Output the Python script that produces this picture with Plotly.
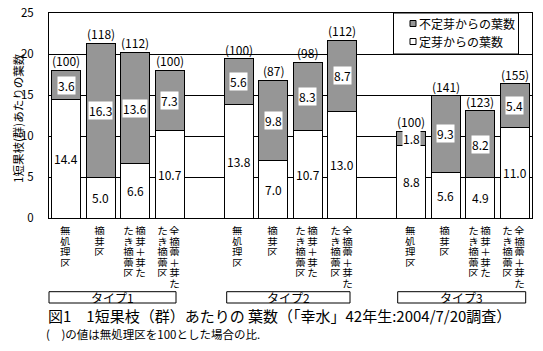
import plotly.graph_objects as go

# ---------------- data ----------------
groups = ["タイプ1", "タイプ2", "タイプ3"]
# category labels as vertical columns (first entry = right-hand column)
cat_cols = [["無処理区"], ["摘芽区"], ["摘芽＋芽た", "たき摘蕾区"], ["全摘蕾＋芽た", "たき摘蕾区"]]
teiga = [14.4, 5.0, 6.6, 10.7,   13.8, 7.0, 10.7, 13.0,   8.8, 5.6, 4.9, 11.0]   # 定芽からの葉数
futeiga = [3.6, 16.3, 13.6, 7.3,  5.6, 9.8, 8.3, 8.7,     1.8, 9.3, 8.2, 5.4]    # 不定芽からの葉数
ratio = [100, 118, 112, 100,     100, 87, 98, 112,        100, 141, 123, 155]
y_ticks = [0, 5, 10, 15, 20, 25]
name_top = "不定芽からの葉数"
name_bot = "定芽からの葉数"
title_text = "図1　1短果枝（群）あたりの 葉数（「幸水」42年生:2004/7/20調査）"
note_text = "(　)の値は無処理区を100とした場合の比."
ytitle = "1短果枝(群)あたりの葉数"

# slot positions (4 bars, blank, 4 bars, blank, 4 bars)
xs = [0, 1, 2, 3, 5, 6, 7, 8, 10, 11, 12, 13]

FONT = "Noto Sans CJK JP"
GRAY = "#969696"
W, H = 543, 351
ML, MR, MT, MB = 49, 11, 13, 133
PW = W - ML - MR
PH = H - MT - MB


def yp(py):
    return (H - MB - py) / PH


def xp(px):
    return (px - ML) / PW


fig = go.Figure()
fig.add_bar(x=xs, y=teiga, name=name_bot, width=0.84,
            marker=dict(color="white", line=dict(color="black", width=1)))
fig.add_bar(x=xs, y=futeiga, name=name_top, width=0.84,
            marker=dict(color=GRAY, line=dict(color="black", width=1)))

ann = []
shapes = []
# value labels
for x, a, b, r in zip(xs, teiga, futeiga, ratio):
    ann.append(dict(x=x, y=a / 2, xref="x", yref="y", text=f"{a:.1f}", showarrow=False,
                    font=dict(size=12, color="black", family=FONT), bgcolor="white", borderpad=0))
    ann.append(dict(x=x, y=a + b / 2, xref="x", yref="y", text=f"{b:.1f}", showarrow=False,
                    font=dict(size=12, color="black", family=FONT), bgcolor="white", borderpad=0))
    ann.append(dict(x=x, y=a + b, xref="x", yref="y", text=f"({r})", showarrow=False,
                    yanchor="bottom", yshift=-1,
                    font=dict(size=12, color="black", family=FONT)))

# vertical category labels (stacked characters)
rows_y = [230, 240.6, 251.2, 261.8, 272.4, 283]
for gi in range(3):
    for ci, cols in enumerate(cat_cols):
        x = xs[gi * 4 + ci]
        shifts = [-1] if len(cols) == 1 else [5, -7]
        for col, sh in zip(cols, shifts):
            for ri, ch in enumerate(col):
                ann.append(dict(x=x, y=yp(rows_y[ri]), xref="x", yref="paper", text=ch,
                                showarrow=False, xshift=sh, xanchor="center", yanchor="middle",
                                height=10, width=11,
                                font=dict(size=10.5, color="black", family=FONT)))

# group boxes
box_px = [(49, 176), (226.7, 350), (397.7, 525.7)]
for (x0, x1), g in zip(box_px, groups):
    shapes.append(dict(type="rect", xref="paper", yref="paper", x0=xp(x0), x1=xp(x1),
                       y0=yp(303), y1=yp(291.7), line=dict(color="black", width=1)))
    ann.append(dict(x=xp((x0 + x1) / 2), y=yp(297.5), xref="paper", yref="paper", text=g,
                    showarrow=False, height=11, xanchor="center", yanchor="middle",
                    font=dict(size=12, color="black", family=FONT)))

# legend (manual)
shapes.append(dict(type="rect", xref="paper", yref="paper", x0=xp(393.5), x1=xp(518.5),
                   y0=yp(54), y1=yp(13), line=dict(color="black", width=1), fillcolor="white"))
for py, col, name in [(23.5, GRAY, name_top), (41.5, "white", name_bot)]:
    shapes.append(dict(type="rect", xref="paper", yref="paper", x0=xp(410), x1=xp(416),
                       y0=yp(py + 3), y1=yp(py - 3), line=dict(color="black", width=1), fillcolor=col))
    ann.append(dict(x=xp(417), y=yp(py), xref="paper", yref="paper", text=name, showarrow=False,
                    xanchor="left", yanchor="middle",
                    font=dict(size=12, color="black", family=FONT)))

# axis title
ann.append(dict(x=xp(18), y=yp(118), xref="paper", yref="paper", text=ytitle, showarrow=False,
                textangle=-90, xanchor="center", yanchor="middle",
                font=dict(size=11.5, color="black", family=FONT)))
# figure title and note
ann.append(dict(x=xp(46), y=yp(315.5), xref="paper", yref="paper", text=title_text, showarrow=False,
                xanchor="left", yanchor="middle", font=dict(size=15, color="black", family=FONT)))
ann.append(dict(x=xp(44), y=yp(334), xref="paper", yref="paper", text=note_text, showarrow=False,
                xanchor="left", yanchor="middle", font=dict(size=11.5, color="black", family=FONT)))

fig.update_layout(
    width=W, height=H, margin=dict(l=ML, r=MR, t=MT, b=MB, autoexpand=False),
    paper_bgcolor="white", plot_bgcolor="white",
    barmode="stack", showlegend=False,
    font=dict(family=FONT, size=12, color="black"),
    annotations=ann, shapes=shapes,
    xaxis=dict(range=[-0.5, 13.5], showticklabels=False, ticks="", showgrid=False, automargin=False,
               showline=True, linecolor="black", linewidth=1, mirror=True, zeroline=False),
    yaxis=dict(range=[0, 25], tickvals=y_ticks, ticks="", showgrid=True, gridcolor="black",
               gridwidth=1, showline=True, linecolor="black", linewidth=1, mirror=True,
               zeroline=False, ticklabelstandoff=12, automargin=False,
               tickfont=dict(size=11.5, family=FONT, color="black")),
)

fig.write_html("out.html")
